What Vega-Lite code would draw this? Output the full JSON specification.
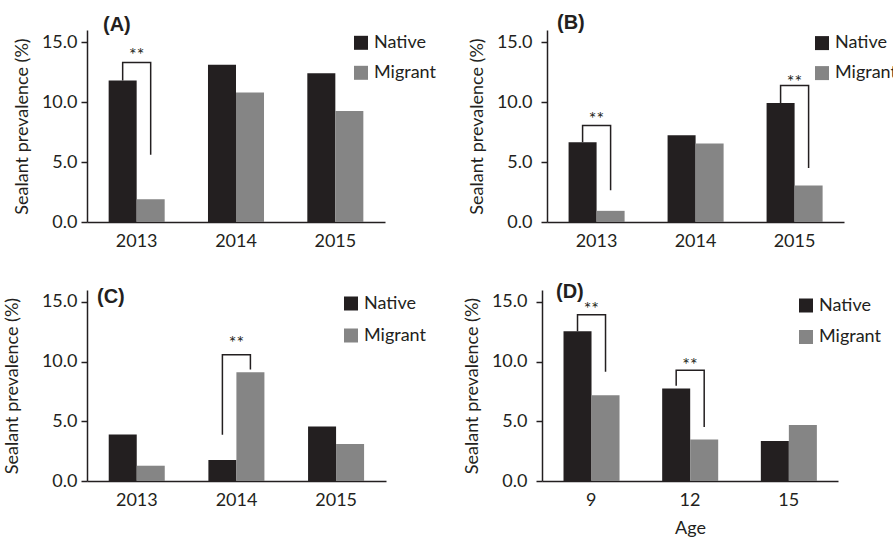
{
  "$schema": "https://vega.github.io/schema/vega-lite/v6.json",
  "padding": {"left": 3, "top": 13, "right": 0, "bottom": 0},
  "datasets": {
    "bars": [
      {"panel": "A", "cat": "2013", "group": "Native", "value": 11.8},
      {"panel": "A", "cat": "2013", "group": "Migrant", "value": 1.9},
      {"panel": "A", "cat": "2014", "group": "Native", "value": 13.1},
      {"panel": "A", "cat": "2014", "group": "Migrant", "value": 10.8},
      {"panel": "A", "cat": "2015", "group": "Native", "value": 12.4},
      {"panel": "A", "cat": "2015", "group": "Migrant", "value": 9.25},
      {"panel": "B", "cat": "2013", "group": "Native", "value": 6.64},
      {"panel": "B", "cat": "2013", "group": "Migrant", "value": 0.93},
      {"panel": "B", "cat": "2014", "group": "Native", "value": 7.22},
      {"panel": "B", "cat": "2014", "group": "Migrant", "value": 6.54},
      {"panel": "B", "cat": "2015", "group": "Native", "value": 9.92},
      {"panel": "B", "cat": "2015", "group": "Migrant", "value": 3.05},
      {"panel": "C", "cat": "2013", "group": "Native", "value": 3.9},
      {"panel": "C", "cat": "2013", "group": "Migrant", "value": 1.28},
      {"panel": "C", "cat": "2014", "group": "Native", "value": 1.75},
      {"panel": "C", "cat": "2014", "group": "Migrant", "value": 9.12},
      {"panel": "C", "cat": "2015", "group": "Native", "value": 4.56},
      {"panel": "C", "cat": "2015", "group": "Migrant", "value": 3.09},
      {"panel": "D", "cat": "9", "group": "Native", "value": 12.55},
      {"panel": "D", "cat": "9", "group": "Migrant", "value": 7.19},
      {"panel": "D", "cat": "12", "group": "Native", "value": 7.75},
      {"panel": "D", "cat": "12", "group": "Migrant", "value": 3.48},
      {"panel": "D", "cat": "15", "group": "Native", "value": 3.36},
      {"panel": "D", "cat": "15", "group": "Migrant", "value": 4.69}
    ],
    "brackets": [
      {"panel": "A", "bid": "A1", "cat": "2013", "group": "Native", "ord": 1, "y": 11.8},
      {"panel": "A", "bid": "A1", "cat": "2013", "group": "Native", "ord": 2, "y": 13.3},
      {"panel": "A", "bid": "A1", "cat": "2013", "group": "Migrant", "ord": 3, "y": 13.3},
      {"panel": "A", "bid": "A1", "cat": "2013", "group": "Migrant", "ord": 4, "y": 5.6},
      {"panel": "B", "bid": "B1", "cat": "2013", "group": "Native", "ord": 1, "y": 6.64},
      {"panel": "B", "bid": "B1", "cat": "2013", "group": "Native", "ord": 2, "y": 8.05},
      {"panel": "B", "bid": "B1", "cat": "2013", "group": "Migrant", "ord": 3, "y": 8.05},
      {"panel": "B", "bid": "B1", "cat": "2013", "group": "Migrant", "ord": 4, "y": 2.64},
      {"panel": "B", "bid": "B2", "cat": "2015", "group": "Native", "ord": 1, "y": 9.92},
      {"panel": "B", "bid": "B2", "cat": "2015", "group": "Native", "ord": 2, "y": 11.38},
      {"panel": "B", "bid": "B2", "cat": "2015", "group": "Migrant", "ord": 3, "y": 11.38},
      {"panel": "B", "bid": "B2", "cat": "2015", "group": "Migrant", "ord": 4, "y": 4.5},
      {"panel": "C", "bid": "C1", "cat": "2014", "group": "Native", "ord": 1, "y": 3.87},
      {"panel": "C", "bid": "C1", "cat": "2014", "group": "Native", "ord": 2, "y": 10.57},
      {"panel": "C", "bid": "C1", "cat": "2014", "group": "Migrant", "ord": 3, "y": 10.57},
      {"panel": "C", "bid": "C1", "cat": "2014", "group": "Migrant", "ord": 4, "y": 9.35},
      {"panel": "D", "bid": "D1", "cat": "9", "group": "Native", "ord": 1, "y": 12.55},
      {"panel": "D", "bid": "D1", "cat": "9", "group": "Native", "ord": 2, "y": 13.93},
      {"panel": "D", "bid": "D1", "cat": "9", "group": "Migrant", "ord": 3, "y": 13.93},
      {"panel": "D", "bid": "D1", "cat": "9", "group": "Migrant", "ord": 4, "y": 9.15},
      {"panel": "D", "bid": "D2", "cat": "12", "group": "Native", "ord": 1, "y": 7.97},
      {"panel": "D", "bid": "D2", "cat": "12", "group": "Native", "ord": 2, "y": 9.27},
      {"panel": "D", "bid": "D2", "cat": "12", "group": "Migrant", "ord": 3, "y": 9.27},
      {"panel": "D", "bid": "D2", "cat": "12", "group": "Migrant", "ord": 4, "y": 4.52}
    ],
    "stars": [
      {"panel": "A", "cat": "2013", "y": 14.17, "label": "**"},
      {"panel": "B", "cat": "2013", "y": 8.85, "label": "**"},
      {"panel": "B", "cat": "2015", "y": 11.9, "label": "**"},
      {"panel": "C", "cat": "2014", "y": 11.77, "label": "**"},
      {"panel": "D", "cat": "9", "y": 14.63, "label": "**"},
      {"panel": "D", "cat": "12", "y": 9.94, "label": "**"}
    ]
  },
  "resolve": {"legend": {"color": "independent"}},
  "spacing": 32,
  "vconcat": [
    {
      "spacing": 32,
      "resolve": {"legend": {"color": "independent"}},
      "hconcat": [
        {
          "width": 298, "height": 192,
          "title": {"text": "(A)", "dx": 16, "offset": -4.5},
          "layer": [
            {
              "data": {"name": "bars"},
              "transform": [{"filter": "datum.panel === 'A'"}],
              "mark": {"type": "bar"},
              "encoding": {
                "x": {"field": "cat", "type": "nominal", "scale": {"domain": ["2013", "2014", "2015"], "paddingInner": 0.436, "paddingOuter": 0.218}},
                "xOffset": {"field": "group", "type": "nominal", "scale": {"domain": ["Native", "Migrant"], "paddingInner": 0, "paddingOuter": 0}},
                "y": {"field": "value", "type": "quantitative", "scale": {"domain": [0, 15]}, "axis": {"title": "Sealant prevalence (%)"}},
                "color": {"field": "group", "type": "nominal", "scale": {"domain": ["Native", "Migrant"], "range": ["#231f20", "#858585"]}, "legend": {"title": null, "legendX": 265, "legendY": 3.8, "rowPadding": 12}}
              }
            },
            {
              "data": {"name": "brackets"},
              "transform": [{"filter": "datum.panel === 'A'"}],
              "mark": {"type": "line", "color": "#231f20", "strokeWidth": 1.5},
              "encoding": {
                "x": {"field": "cat", "type": "nominal"},
                "xOffset": {"field": "group", "type": "nominal"},
                "y": {"field": "y", "type": "quantitative"},
                "detail": {"field": "bid"},
                "order": {"field": "ord"}
              }
            },
            {
              "data": {"name": "stars"},
              "transform": [{"filter": "datum.panel === 'A'"}],
              "mark": {"type": "text", "baseline": "alphabetic", "dy": 9, "fontSize": 18, "color": "#231f20"},
              "encoding": {
                "x": {"field": "cat", "type": "nominal"},
                "y": {"field": "y", "type": "quantitative"},
                "text": {"field": "label"}
              }
            }
          ]
        },
        {
          "width": 297, "height": 192,
          "title": {"text": "(B)", "dx": 10, "offset": -3.1},
          "layer": [
            {
              "data": {"name": "bars"},
              "transform": [{"filter": "datum.panel === 'B'"}],
              "mark": {"type": "bar"},
              "encoding": {
                "x": {"field": "cat", "type": "nominal", "scale": {"domain": ["2013", "2014", "2015"], "paddingInner": 0.436, "paddingOuter": 0.218}},
                "xOffset": {"field": "group", "type": "nominal", "scale": {"domain": ["Native", "Migrant"], "paddingInner": 0, "paddingOuter": 0}},
                "y": {"field": "value", "type": "quantitative", "scale": {"domain": [0, 15]}, "axis": {"title": "Sealant prevalence (%)", "labelPadding": 9}},
                "color": {"field": "group", "type": "nominal", "scale": {"domain": ["Native", "Migrant"], "range": ["#231f20", "#858585"]}, "legend": {"title": null, "legendX": 266, "legendY": 4.1, "rowPadding": 12}}
              }
            },
            {
              "data": {"name": "brackets"},
              "transform": [{"filter": "datum.panel === 'B'"}],
              "mark": {"type": "line", "color": "#231f20", "strokeWidth": 1.5},
              "encoding": {
                "x": {"field": "cat", "type": "nominal"},
                "xOffset": {"field": "group", "type": "nominal"},
                "y": {"field": "y", "type": "quantitative"},
                "detail": {"field": "bid"},
                "order": {"field": "ord"}
              }
            },
            {
              "data": {"name": "stars"},
              "transform": [{"filter": "datum.panel === 'B'"}],
              "mark": {"type": "text", "baseline": "alphabetic", "dy": 9, "fontSize": 18, "color": "#231f20"},
              "encoding": {
                "x": {"field": "cat", "type": "nominal"},
                "y": {"field": "y", "type": "quantitative"},
                "text": {"field": "label"}
              }
            }
          ]
        }
      ]
    },
    {
      "spacing": 37,
      "resolve": {"legend": {"color": "independent"}},
      "hconcat": [
        {
          "width": 299, "height": 191,
          "title": {"text": "(C)", "dx": 10, "offset": -16.6},
          "layer": [
            {
              "data": {"name": "bars"},
              "transform": [{"filter": "datum.panel === 'C'"}],
              "mark": {"type": "bar"},
              "encoding": {
                "x": {"field": "cat", "type": "nominal", "scale": {"domain": ["2013", "2014", "2015"], "paddingInner": 0.436, "paddingOuter": 0.218}},
                "xOffset": {"field": "group", "type": "nominal", "scale": {"domain": ["Native", "Migrant"], "paddingInner": 0, "paddingOuter": 0}},
                "y": {"field": "value", "type": "quantitative", "scale": {"domain": [0, 15]}, "axis": {"title": "Sealant prevalence (%)", "titlePadding": 20}},
                "color": {"field": "group", "type": "nominal", "scale": {"domain": ["Native", "Migrant"], "range": ["#231f20", "#858585"]}, "legend": {"title": null, "legendX": 255, "legendY": 4.5, "rowPadding": 14}}
              }
            },
            {
              "data": {"name": "brackets"},
              "transform": [{"filter": "datum.panel === 'C'"}],
              "mark": {"type": "line", "color": "#231f20", "strokeWidth": 1.5},
              "encoding": {
                "x": {"field": "cat", "type": "nominal"},
                "xOffset": {"field": "group", "type": "nominal"},
                "y": {"field": "y", "type": "quantitative"},
                "detail": {"field": "bid"},
                "order": {"field": "ord"}
              }
            },
            {
              "data": {"name": "stars"},
              "transform": [{"filter": "datum.panel === 'C'"}],
              "mark": {"type": "text", "baseline": "alphabetic", "dy": 9, "fontSize": 18, "color": "#231f20"},
              "encoding": {
                "x": {"field": "cat", "type": "nominal"},
                "y": {"field": "y", "type": "quantitative"},
                "text": {"field": "label"}
              }
            }
          ]
        },
        {
          "width": 296, "height": 191,
          "title": {"text": "(D)", "dx": 14, "offset": -12},
          "layer": [
            {
              "data": {"name": "bars"},
              "transform": [{"filter": "datum.panel === 'D'"}],
              "mark": {"type": "bar"},
              "encoding": {
                "x": {"field": "cat", "type": "nominal", "scale": {"domain": ["9", "12", "15"], "paddingInner": 0.436, "paddingOuter": 0.218}, "axis": {"title": "Age", "titlePadding": 10}},
                "xOffset": {"field": "group", "type": "nominal", "scale": {"domain": ["Native", "Migrant"], "paddingInner": 0, "paddingOuter": 0}},
                "y": {"field": "value", "type": "quantitative", "scale": {"domain": [0, 15]}, "axis": {"title": "Sealant prevalence (%)", "labelPadding": 9}},
                "color": {"field": "group", "type": "nominal", "scale": {"domain": ["Native", "Migrant"], "range": ["#231f20", "#858585"]}, "legend": {"title": null, "legendX": 255, "legendY": 6.5, "rowPadding": 13.5}}
              }
            },
            {
              "data": {"name": "brackets"},
              "transform": [{"filter": "datum.panel === 'D'"}],
              "mark": {"type": "line", "color": "#231f20", "strokeWidth": 1.5},
              "encoding": {
                "x": {"field": "cat", "type": "nominal"},
                "xOffset": {"field": "group", "type": "nominal"},
                "y": {"field": "y", "type": "quantitative"},
                "detail": {"field": "bid"},
                "order": {"field": "ord"}
              }
            },
            {
              "data": {"name": "stars"},
              "transform": [{"filter": "datum.panel === 'D'"}],
              "mark": {"type": "text", "baseline": "alphabetic", "dy": 9, "fontSize": 18, "color": "#231f20"},
              "encoding": {
                "x": {"field": "cat", "type": "nominal"},
                "y": {"field": "y", "type": "quantitative"},
                "text": {"field": "label"}
              }
            }
          ]
        }
      ]
    }
  ],
  "config": {
    "font": "Lato",
    "view": {"stroke": null},
    "axis": {"domainColor": "#231f20", "tickColor": "#231f20", "labelColor": "#231f20", "titleColor": "#231f20", "labelFont": "Lato", "titleFont": "Lato", "labelFontSize": 18, "titleFontSize": 18, "titleFontWeight": "normal", "grid": false, "domainWidth": 1.5, "tickWidth": 1.5},
    "axisX": {"ticks": false, "labelPadding": 10, "labelAngle": 0, "title": null},
    "axisY": {"tickSize": 6, "labelPadding": 4, "values": [0, 5, 10, 15], "format": ".1f", "titlePadding": 10},
    "legend": {"orient": "none", "labelFont": "Lato", "labelFontSize": 18, "labelColor": "#231f20", "symbolType": "square", "symbolSize": 196, "symbolStrokeWidth": 0, "rowPadding": 12, "labelOffset": 4, "padding": 0},
    "title": {"anchor": "start", "frame": "group", "font": "Liberation Sans", "fontSize": 20, "fontWeight": "bold", "color": "#231f20"}
  }
}
